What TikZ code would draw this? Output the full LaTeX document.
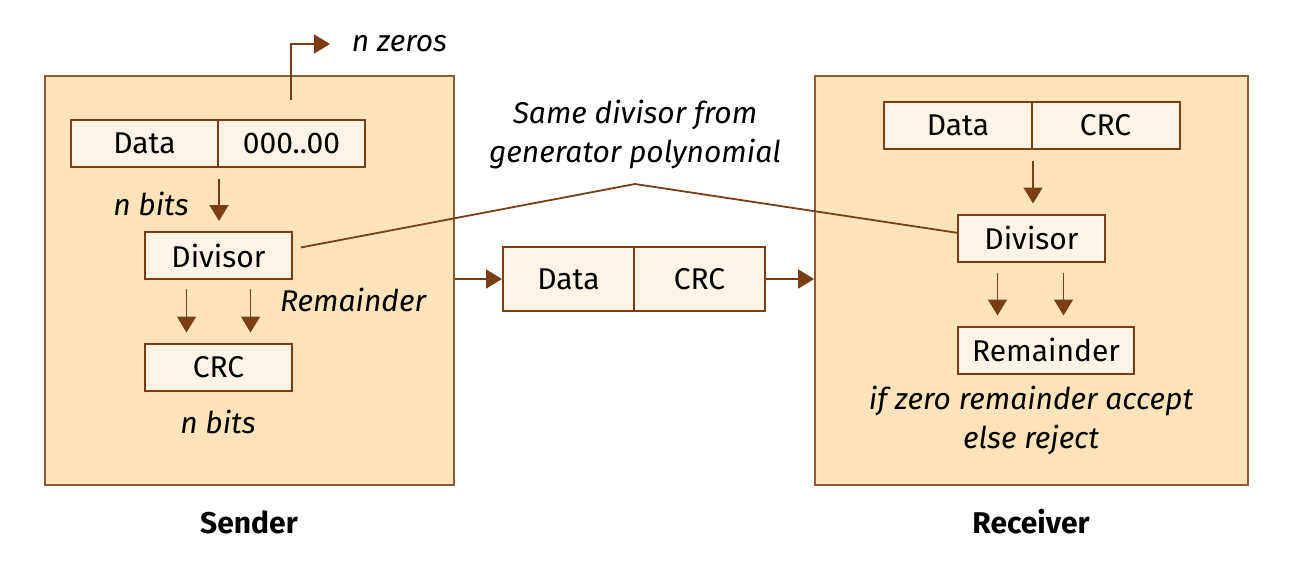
\documentclass[tikz,border=0pt]{standalone}
\usepackage{fontspec}
\setmainfont{Fira Sans}
\usetikzlibrary{arrows.meta}
\definecolor{brownline}{RGB}{122,62,20}
\definecolor{panelfill}{RGB}{253,227,186}
\definecolor{cellfill}{RGB}{254,243,229}
\tikzset{
  panel/.style={draw=brownline!85, fill=panelfill, line width=0.9pt, inner sep=0pt},
  cell/.style={draw=brownline, fill=cellfill, line width=1pt, inner sep=0pt, minimum height=23.5pt, font=\fontsize{15}{17}\selectfont},
  label/.style={inner sep=0.75pt, font=\fontsize{15}{19.5}\selectfont\itshape, align=center},
  arr/.style={draw=brownline, line width=0.9pt, -{Triangle[width=9.5pt,length=8pt]}},
  link/.style={draw=brownline, line width=0.9pt}
}
\begin{document}
\begin{tikzpicture}[x=0.5pt,y=0.5pt,yscale=-1,xscale=1]
        \useasboundingbox (0,0) rectangle (1315,562);
        
        %Shape: Rectangle [sender]
        \node [panel, minimum width=204.5pt, minimum height=204.5pt] (sbox) at (249.5,280.5) {};
        %Shape: Rectangle [receiver]
        \node [panel, minimum width=216.5pt, minimum height=204.5pt] (rbox) at (1031.5,280.5) {};
        
        %Sender cells
        \node [cell, minimum width=73.5pt] (sdata) at (144.5,143.5) {Data};
        \node [cell, minimum width=73.5pt] (szero) at (291.5,143.5) {000..00};
        \node [cell, minimum width=73.5pt] (sdiv) at (218.5,255.5) {Divisor};
        \node [cell, minimum width=73.5pt] (scrc) at (218.5,367) {CRC};
        
        %Packet on the wire
        \node [cell, minimum width=65.5pt, minimum height=32pt] (pdata) at (568.5,279) {Data};
        \node [cell, minimum width=65.5pt, minimum height=32pt] (pcrc) at (699.5,279) {CRC};
        
        %Receiver cells
        \node [cell, minimum width=74pt] (rdata) at (958,125.5) {Data};
        \node [cell, minimum width=74pt] (rcrc) at (1105.5,125.5) {CRC};
        \node [cell, minimum width=73.5pt] (rdiv) at (1031.5,238) {Divisor};
        \node [cell, minimum width=88pt] (rrem) at (1046,350) {Remainder};
        
        % Text Node
        \node [label, anchor=west] (nzeros) at (350,44) {n zeros};
        % Text Node
        \node [label] (sbits) at (151,204) {n bits};
        % Text Node
        \node [label] (srem) at (353,300) {Remainder};
        % Text Node
        \node [label] (cbits) at (218,422) {n bits};
        % Text Node
        \node [label] (same) at (635,135) {Same divisor from\\generator polynomial};
        % Text Node
        \node [label] (rule) at (1031,420) {if zero remainder accept\\else reject};
        % Text Node
        \node [inner sep=0.75pt, font=\fontsize{15}{17}\selectfont\bfseries] (sname) at (249,522) {Sender};
        % Text Node
        \node [inner sep=0.75pt, font=\fontsize{15}{17}\selectfont\bfseries] (rname) at (1031,522) {Receiver};
        
        %Arrows
        \coordinate (zstart) at (291,100);
        \coordinate (apex) at (635,184);
        \draw [arr] (zstart) |- ([xshift=-10pt]nzeros.west);
        \draw [arr, shorten <=5.5pt, shorten >=5pt] (sdata.south east) -- (sdata.south east |- sdiv.north);
        \draw [arr, shorten <=4.5pt, shorten >=5pt] ([xshift=-16pt]sdiv.south) -- ([xshift=-16pt]scrc.north);
        \draw [arr, shorten <=4.5pt, shorten >=5pt] ([xshift=16pt]sdiv.south) -- ([xshift=16pt]scrc.north);
        \draw [arr] (pdata.west -| sbox.east) -- (pdata.west);
        \draw [arr] (pcrc.east) -- (pcrc.east -| rbox.west);
        \draw [arr, shorten <=5.5pt, shorten >=5pt] (rdata.south east) -- (rdata.south east |- rdiv.north);
        \draw [arr, shorten <=5pt, shorten >=5pt] ([xshift=-17pt]rdiv.south) -- ([xshift=-17pt]rdiv.south |- rrem.north);
        \draw [arr, shorten <=5pt, shorten >=5pt] ([xshift=16pt]rdiv.south) -- ([xshift=16pt]rdiv.south |- rrem.north);
        %Straight Lines [divisor link]
        \draw [link, shorten <=4pt] (sdiv.5) -- (apex) -- (rdiv.176);
        \end{tikzpicture}
\end{document}
